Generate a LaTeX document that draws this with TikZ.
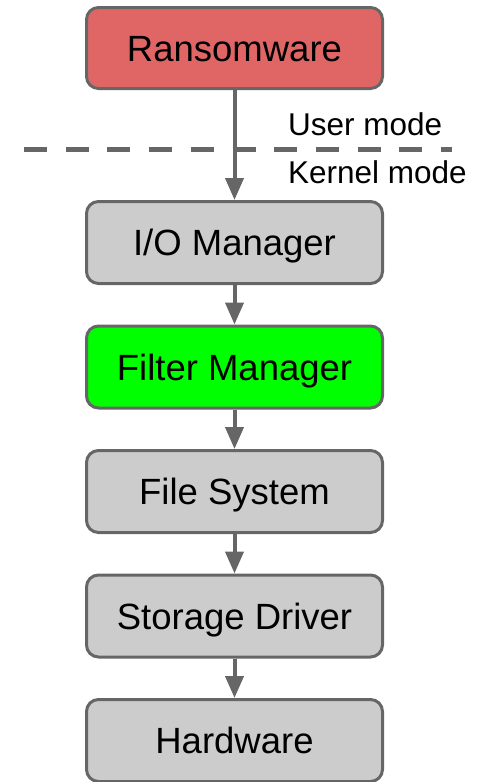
\documentclass[tikz,border=0pt]{standalone}
\usepackage{fontspec}
\setmainfont{Liberation Sans}
\usetikzlibrary{arrows.meta}
\definecolor{edgegray}{HTML}{666666}
\definecolor{boxgray}{HTML}{CCCCCC}
\definecolor{ransomred}{HTML}{E06666}
\definecolor{filtergreen}{HTML}{00FF00}
\tikzset{
  layer/.style={draw=edgegray, line width=3pt, rounded corners=12pt,
    fill=boxgray, minimum width=296pt, minimum height=82pt,
    text height=26pt, text depth=0pt, font=\fontsize{36.5}{43}\selectfont},
  flow/.style={draw=edgegray, line width=4pt,
    -{Triangle[width=18pt,length=22pt]}},
  modelabel/.style={anchor=base west, inner sep=0pt,
    font=\fontsize{31.5}{37}\selectfont}
}
\begin{document}
\begin{tikzpicture}[x=1pt,y=-1pt]
      \useasboundingbox (0,0) rectangle (479,782);
      \draw
        (234.5,48) node[layer, fill=ransomred, minimum height=81pt] (ransom){Ransomware}
        (234.5,242.5) node[layer] (io){I/O Manager}
        (234.5,367) node[layer, fill=filtergreen] (filter){Filter Manager}
        (234.5,491.5) node[layer] (fs){File System}
        (234.5,616) node[layer] (storage){Storage Driver}
        (234.5,740.5) node[layer] (hw){Hardware};
      \coordinate (splitL) at (24,149.5);
      \coordinate (splitR) at (452,149.5);
      \draw[edgegray, line width=5pt, dash pattern=on 23pt off 18.7pt] (splitL) -- (splitR);
      \node[modelabel] (user) at (288,135.5) {User mode};
      \node[modelabel] (kernel) at (288,183.5) {Kernel mode};
      \begin{scope}[flow]
        \draw (ransom) to (io);
        \draw (io) to (filter);
        \draw (filter) to (fs);
        \draw (fs) to (storage);
        \draw (storage) to (hw);
      \end{scope}
    \end{tikzpicture}
\end{document}
